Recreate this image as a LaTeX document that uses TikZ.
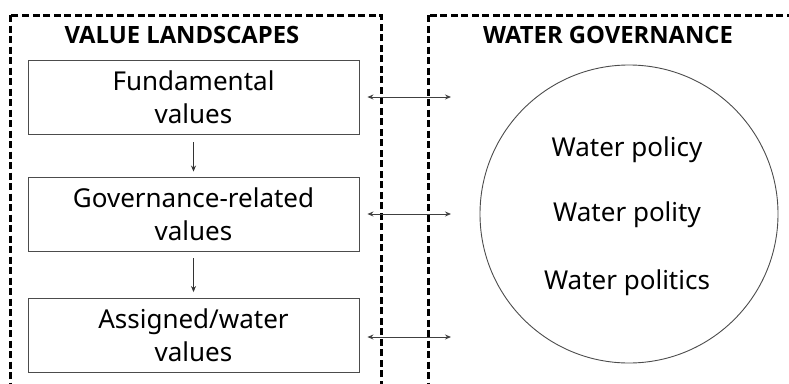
\documentclass[tikz,border=0pt]{standalone}
\usepackage{fontspec}
\setmainfont{Noto Sans}
\IfFontExistsTF{Open Sans Bold}
  {\newfontfamily\headfont{Open Sans Bold}}
  {\newfontfamily\headfont{Noto Sans}[FakeBold=4]}
\usetikzlibrary{arrows.meta,positioning}

\tikzset{
  valbox/.style={draw=black!70,line width=0.9pt,minimum width=331,minimum height=74,align=center,
    font=\fontsize{26}{33}\selectfont},
  frame/.style={draw=black,line width=3pt,dash pattern=on 7pt off 3.5pt},
  heading/.style={font=\headfont\fontsize{23.8}{26}\selectfont},
  circtext/.style={font=\fontsize{26}{30}\selectfont},
  link/.style={{Stealth[length=6pt,width=5pt]}-{Stealth[length=6pt,width=5pt]},line width=0.9pt,black!75},
  down/.style={-{Stealth[length=6pt,width=5pt]},line width=0.8pt,black!80}
}

\begin{document}
\begin{tikzpicture}[x=1pt,y=-1pt]
    \clip (0,0) rectangle (789,383);
    \useasboundingbox (0,0) rectangle (789,383);

    % dashed frames
    \draw[frame] (10,15) rectangle (381,420);
    \draw[frame] (428,15) rectangle (820,420);

    \node[heading] (vtitle) at (182,35) {VALUE LANDSCAPES};
    \node[heading] (gtitle) at (608,35) {WATER GOVERNANCE};

    % value boxes
    \node[valbox] (fund) at (193.5,97) {Fundamental\\values};
    \node[valbox] (gov) at (193.5,214) {Governance-related\\values};
    \node[valbox] (assig) at (193.5,335.5) {Assigned/water\\values};

    \draw[down,shorten <=8pt,shorten >=5pt] (fund) -- (gov);
    \draw[down,shorten <=7pt,shorten >=6pt] (gov) -- (assig);

    % governance circle
    \node[draw=black!70,line width=0.9pt,circle,minimum size=298] (wg) at (629,214) {};
    \node[circtext] (polity) at (627,215) {Water polity};
    \node[circtext] (policy) at (627,150) {Water policy};
    \node[circtext] (politics) at (627,283) {Water politics};

    % links
    \coordinate (r1) at (451,97);
    \coordinate (r2) at (451,214);
    \coordinate (r3) at (451,337);
    \draw[link] ([xshift=8pt]fund.east) -- (r1);
    \draw[link] ([xshift=8pt]gov.east) -- (r2);
    \draw[link] ([xshift=8pt,yshift=-1.5pt]assig.east) -- (r3);
\end{tikzpicture}
\end{document}
